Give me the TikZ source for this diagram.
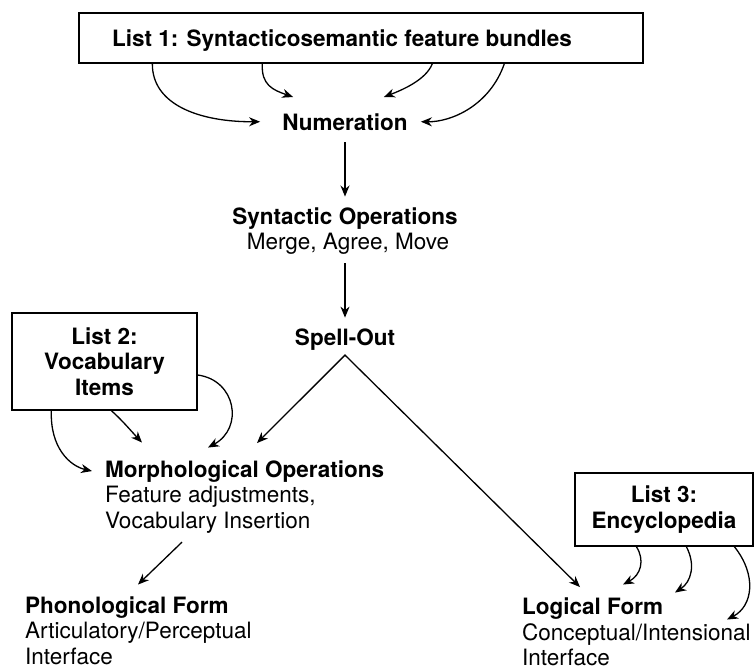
\documentclass[tikz,border=0pt]{standalone}
\usepackage{fontspec}
\setmainfont{TeX Gyre Heros}
\usetikzlibrary{arrows.meta}
\begin{document}
\begin{tikzpicture}[x=1pt,y=-1pt,
  title/.style={font=\fontsize{22.5}{25.5}\selectfont\bfseries, inner sep=0pt},
  plain/.style={font=\fontsize{22.5}{25.5}\selectfont, inner sep=0pt},
  listbox/.style={draw, line width=1.3pt},
  arr/.style={-{Stealth[length=11pt,width=9pt,inset=3.5pt]}, line width=1.3pt},
  arrboth/.style={{Stealth[length=11pt,width=9pt,inset=3.5pt]}-{Stealth[length=11pt,width=9pt,inset=3.5pt]}, line width=1.3pt, line join=miter}]
\useasboundingbox (0,0) rectangle (754,669);

% List 1
\node[listbox, minimum width=564pt, minimum height=50pt] (L1) at (361,38) {};
\node[title, anchor=base] (L1t) at (342,47) {List 1: Syntacticosemantic feature bundles};

\node[title, anchor=base] (num) at (345,130) {Numeration};
\node[title, anchor=base] (syn) at (345,224) {Syntactic Operations};
\node[plain, anchor=base] (synd) at (348,249) {Merge, Agree, Move};
\node[title, anchor=base] (spell) at (345,345) {Spell-Out};

% List 2
\node[listbox, title, minimum width=185pt, minimum height=97pt, align=center] (L2) at (104.5,361.5) {List 2:\\Vocabulary\\Items};

\node[title, anchor=base west] (morph) at (105,477) {Morphological Operations};
\node[plain, anchor=base west] (fa) at (105,502) {Feature adjustments,};
\node[plain, anchor=base west] (vi) at (105,528) {Vocabulary Insertion};

\node[title, anchor=base west] (phon) at (25,613) {Phonological Form};
\node[plain, anchor=base west] (ap) at (25,638) {Articulatory/Perceptual};
\node[plain, anchor=base west] (pi) at (25,664) {Interface};

% List 3
\node[listbox, title, minimum width=178pt, minimum height=73pt, align=center] (L3) at (664,509.5) {List 3:\\Encyclopedia};

\node[title, anchor=base west] (logic) at (522,614) {Logical Form};
\node[plain, anchor=base west] (ci) at (522,640) {Conceptual/Intensional};
\node[plain, anchor=base west] (li) at (522,665) {Interface};

% List 1 -> Numeration
\draw[arr] ([xshift=74pt]L1.south west) .. controls (152,105) and (200,122) .. ([xshift=-22pt]num.west);
\draw[arr] ([xshift=184pt]L1.south west) .. controls (261,85) and (273,90) .. ([xshift=11pt,yshift=16pt]num.north west);
\draw[arr] ([xshift=354pt]L1.south west) .. controls (426,80) and (402,90) .. ([xshift=-24pt,yshift=16pt]num.north east);
\draw[arr] ([xshift=426pt]L1.south west) .. controls (490,105) and (452,122) .. ([xshift=13pt]num.east);

% main spine
\draw[arr, shorten <=12pt, shorten >=10.5pt] (num.south) -- (syn.north);
\draw[arr, shorten <=9pt, shorten >=10.5pt] (synd.south -| syn.south) -- (spell.north);
\coordinate (apex) at ([yshift=-5pt]spell.south);
\draw[arrboth] ([xshift=152pt,yshift=17pt]morph.north west) -- (apex) -- ([xshift=58pt,yshift=10pt]logic.north west);

% List 2 -> Morphological Operations
\draw[arr] ([xshift=40pt]L2.south west) .. controls (50,448) and (70,466) .. ([xshift=-13pt]morph.west);
\draw[arr] ([xshift=100pt]L2.south west) .. controls (122,420) and (132,432) .. ([xshift=37pt,yshift=17.5pt]morph.north west);
\draw[arr] ([yshift=-13.5pt]L2.east) .. controls (236,380) and (244,428) .. ([xshift=103pt,yshift=12.5pt]morph.north west);

% Morphological -> Phonological
\draw[arr] ([xshift=77pt,yshift=-9pt]vi.south west) -- ([xshift=113pt,yshift=11.5pt]phon.north west);

% List 3 -> Logical Form
\draw[arr] ([xshift=62pt]L3.south west) .. controls (645,560) and (641,575) .. ([xshift=101pt,yshift=12.5pt]logic.north west);
\draw[arr] ([xshift=112pt]L3.south west) .. controls (696,565) and (691,582) .. ([xshift=153pt,yshift=4.5pt]logic.north west);
\draw[arr] ([xshift=160pt]L3.south west) .. controls (757,575) and (753,606) .. ([xshift=205pt,yshift=-22.5pt]logic.north west);
\end{tikzpicture}
\end{document}
